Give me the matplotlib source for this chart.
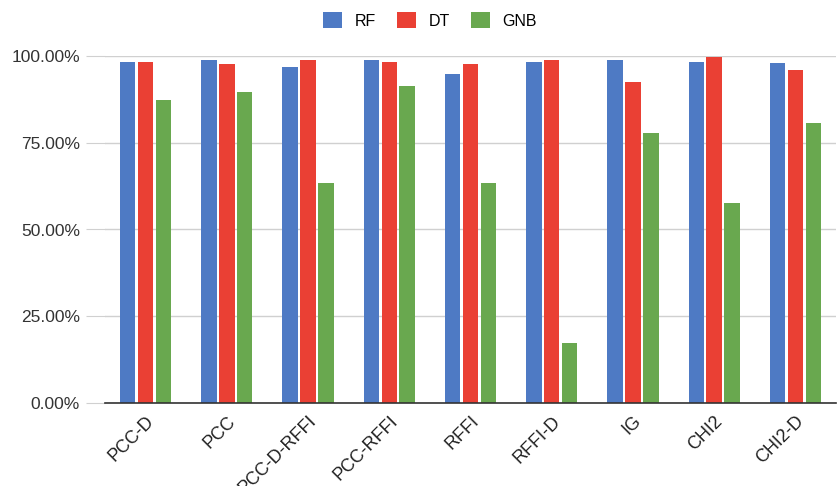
import matplotlib

matplotlib.use("Agg")
import matplotlib.pyplot as plt
import matplotlib.ticker as mticker
import numpy as np

methods = ["PCC-D", "PCC", "PCC-D-RFFI", "PCC-RFFI", "RFFI", "RFFI-D", "IG", "CHI2", "CHI2-D"]
rf = [98.4, 98.8, 96.8, 98.8, 94.7, 98.4, 98.8, 98.4, 98.0]
dt = [98.4, 97.6, 98.8, 98.4, 97.6, 98.8, 92.6, 99.6, 96.0]
gnb = [87.3, 89.7, 63.5, 91.4, 63.5, 17.4, 77.9, 57.7, 80.8]

series = [("RF", rf, "#4e7ac4"), ("DT", dt, "#ea4034"), ("GNB", gnb, "#69a84f")]

plt.rcParams["font.family"] = "Liberation Sans"

fig = plt.figure(figsize=(8.38, 4.86), dpi=100)
ax = fig.add_axes([105 / 838, 83 / 486, 731 / 838, 347 / 486])

x = np.arange(len(methods))
width = 0.19
step = 0.22
for i, (name, vals, col) in enumerate(series):
    ax.bar(x + (i - 1) * step, np.array(vals) / 100, width=width, color=col, label=name, zorder=3)

ax.set_xlim(-0.5, len(methods) - 0.5)
ax.set_ylim(0, 1.0)
ax.set_yticks([0, 0.25, 0.5, 0.75, 1.0])
ax.yaxis.set_major_formatter(mticker.FuncFormatter(lambda v, _: f"{v * 100:.2f}%"))
ax.grid(axis="y", color="#d0d0d0", linewidth=1, zorder=0)
for s in ("top", "right", "left"):
    ax.spines[s].set_visible(False)
ax.spines["bottom"].set_color("#333333")
ax.spines["bottom"].set_linewidth(1.2)
ax.spines["bottom"].set_zorder(4)
ax.tick_params(axis="y", length=14, color="#d0d0d0", labelsize=12.5, labelcolor="#333333", pad=4)
ax.tick_params(axis="x", length=0, labelsize=13, labelcolor="#222222", pad=7)
ax.set_xticks(x)
ax.set_xticklabels(methods, rotation=45, ha="right", rotation_mode="anchor")

fig.legend(loc="center", bbox_to_anchor=(0.513, 0.958), ncol=3, frameon=False,
           fontsize=11.5, handlelength=1.2, handleheight=1.2, columnspacing=1.3, handletextpad=0.8)

fig.savefig("out.png", dpi=100)
